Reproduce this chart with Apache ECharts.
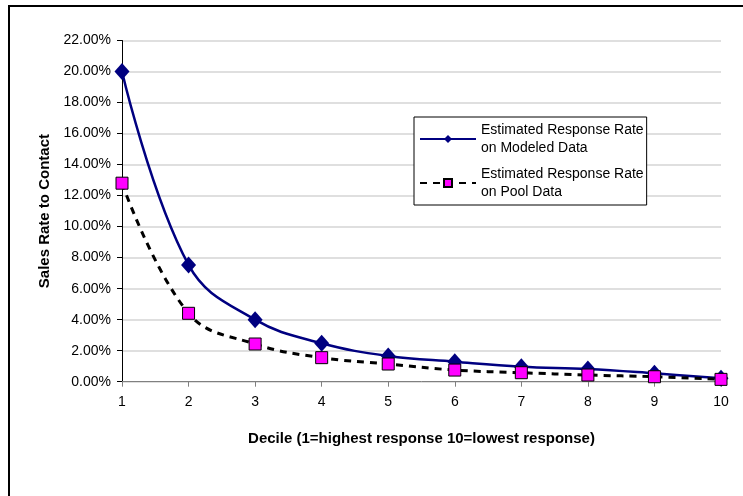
<!DOCTYPE html>
<html>
<head>
<meta charset="utf-8">
<script src="https://cdn.jsdelivr.net/npm/echarts@6/dist/echarts.min.js"></script>
<style>
html,body{margin:0;padding:0;background:#fff;}
#chart{width:743px;height:496px;}
</style>
</head>
<body>
<div id="chart"></div>
<script>
const deciles = ['1','2','3','4','5','6','7','8','9','10'];
const modeledName = 'Estimated Response Rate\non Modeled Data';
const poolName = 'Estimated Response Rate\non Pool Data';
const modeledRate = [20.0, 7.53, 4.0, 2.48, 1.66, 1.29, 0.97, 0.82, 0.54, 0.22];
const poolRate = [12.8, 4.41, 2.43, 1.55, 1.14, 0.75, 0.58, 0.43, 0.32, 0.15];
const yTitle = 'Sales Rate to Contact';
const xTitle = 'Decile (1=highest response 10=lowest response)';

const FONT = "'Liberation Sans', Arial, sans-serif";
const chart = echarts.init(document.getElementById('chart'), null, {renderer: 'canvas'});
chart.setOption({
  animation: false,
  backgroundColor: '#fff',
  textStyle: {fontFamily: FONT},
  graphic: [{
    type: 'rect', silent: true, z: 100,
    shape: {x: 9, y: 6, width: 800, height: 600},
    style: {fill: 'none', stroke: '#000', lineWidth: 2}
  }],
  grid: {left: 122, right: 22, top: 40.5, bottom: 114.3},
  legend: {
    orient: 'vertical', left: 414, top: 117,
    width: 233,
    backgroundColor: '#fff', borderColor: '#000', borderWidth: 1,
    padding: [4, 3, 4, 5], itemGap: 8,
    itemWidth: 56, itemHeight: 10,
    textStyle: {fontFamily: FONT, fontSize: 14, lineHeight: 18, color: '#000'},
    data: [modeledName, poolName]
  },
  xAxis: {
    type: 'category', data: deciles, boundaryGap: false,
    name: xTitle, nameLocation: 'middle', nameGap: 50,
    nameTextStyle: {fontFamily: FONT, fontSize: 15, fontWeight: 'bold', color: '#000'},
    axisLine: {lineStyle: {color: '#808080', width: 1}},
    axisTick: {show: true, inside: false, length: 5, alignWithLabel: true, lineStyle: {color: '#808080'}},
    axisLabel: {fontFamily: FONT, fontSize: 14, color: '#000', margin: 13},
    splitLine: {show: false}
  },
  yAxis: {
    type: 'value', min: 0, max: 22, interval: 2,
    name: yTitle, nameLocation: 'middle', nameGap: 70, nameRotate: 90,
    nameTextStyle: {fontFamily: FONT, fontSize: 15, fontWeight: 'bold', color: '#000'},
    axisLine: {show: true, lineStyle: {color: '#000', width: 1}},
    axisTick: {show: true, inside: false, length: 5, lineStyle: {color: '#000'}},
    axisLabel: {fontFamily: FONT, fontSize: 14, color: '#000', margin: 11,
      formatter: v => v.toFixed(2) + '%'},
    splitLine: {show: true, lineStyle: {color: '#d4d4d4', width: 1.5}}
  },
  series: [{
    name: modeledName, type: 'line', data: modeledRate, smooth: 0.4,
    symbol: 'diamond', symbolSize: [15, 17],
    lineStyle: {color: '#000080', width: 2.5},
    itemStyle: {color: '#000080'}
  }, {
    name: poolName, type: 'line', data: poolRate, smooth: 0.4,
    symbol: 'rect', symbolSize: 12,
    lineStyle: {color: '#000', width: 3, type: [7, 6]},
    itemStyle: {color: '#ff00ff', borderColor: '#000', borderWidth: 1}
  }]
});
</script>
</body>
</html>
